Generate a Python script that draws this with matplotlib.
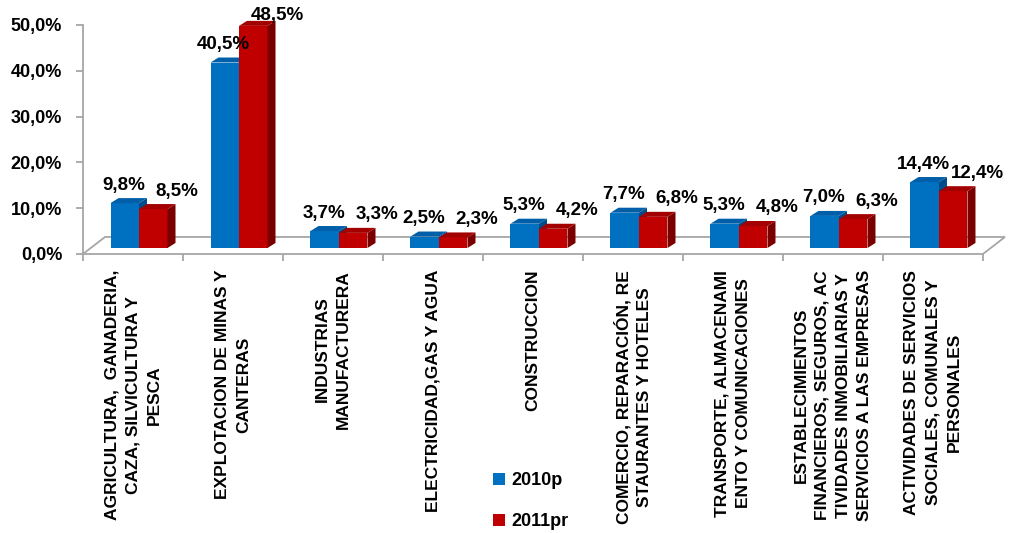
import matplotlib
matplotlib.use('Agg')
import matplotlib.pyplot as plt
from matplotlib.patches import Polygon, Patch
from matplotlib.ticker import FuncFormatter, FixedLocator

plt.rcParams['font.family'] = ['Liberation Sans', 'DejaVu Sans']

# Datos
categorias = [
    'AGRICULTURA,  GANADERIA,\nCAZA, SILVICULTURA Y\nPESCA',
    'EXPLOTACION DE MINAS Y\nCANTERAS',
    'INDUSTRIAS\nMANUFACTURERA',
    'ELECTRICIDAD,GAS Y AGUA',
    'CONSTRUCCION',
    'COMERCIO, REPARACIÓN, RE\nSTAURANTES Y HOTELES',
    'TRANSPORTE, ALMACENAMI\nENTO Y COMUNICACIONES',
    'ESTABLECIMIENTOS\nFINANCIEROS, SEGUROS, AC\nTIVIDADES INMOBILIARIAS Y\nSERVICIOS A LAS EMPRESAS',
    'ACTIVIDADES DE SERVICIOS\nSOCIALES, COMUNALES Y\nPERSONALES',
]
valores_2010 = [9.8, 40.5, 3.7, 2.5, 5.3, 7.7, 5.3, 7.0, 14.4]
valores_2011 = [8.5, 48.5, 3.3, 2.3, 4.2, 6.8, 4.8, 6.3, 12.4]
series = ['2010p', '2011pr']

# Colores (frente, techo, lado)
azul = ('#0070C0', '#005FA8', '#004C8A')
rojo = ('#C00000', '#A30000', '#7A0000')
gris = '#A6A6A6'

fig = plt.figure(figsize=(10.16, 5.33), dpi=100)
ax = fig.add_axes([0.0817, 0.5235, 0.8858, 0.4296])
n = len(categorias)
ax.set_xlim(0, n)
ax.set_ylim(0, 50)

# conversion de pixeles a unidades de datos
px_x = ax.get_position().width * fig.get_figwidth() * fig.dpi / n
px_y = ax.get_position().height * fig.get_figheight() * fig.dpi / 50.0


def dpx(x, y):
    return x / px_x, y / px_y


sx, sy = dpx(6, 6)          # desplazamiento de las barras (profundidad media)
ex, ey = dpx(8, 5)          # extrusion 3D de cada barra
fx, fy = dpx(22, 17)        # fondo del piso
ancho = 28.5 / px_x

# Piso 3D
piso = Polygon([(0, 0), (fx, fy), (n + fx, fy), (n, 0)], closed=False,
               fill=False, edgecolor=gris, lw=1.3, clip_on=False, zorder=1)
ax.add_patch(piso)


def barra(x0, h, cols):
    x1 = x0 + ancho
    y0, y1 = sy, h + sy
    frente = Polygon([(x0, y0), (x1, y0), (x1, y1), (x0, y1)], facecolor=cols[0],
                     edgecolor='none', clip_on=False, zorder=3)
    techo = Polygon([(x0, y1), (x1, y1), (x1 + ex, y1 + ey), (x0 + ex, y1 + ey)],
                    facecolor=cols[1], edgecolor='none', clip_on=False, zorder=3)
    lado = Polygon([(x1, y0), (x1 + ex, y0 + ey), (x1 + ex, y1 + ey), (x1, y1)],
                   facecolor=cols[2], edgecolor='none', clip_on=False, zorder=3)
    for p in (frente, lado, techo):
        ax.add_patch(p)


lim_label = 50 + 9 / px_y
for i in range(n):
    xc = i + 0.5 + sx
    barra(xc - ancho, valores_2010[i], azul)
    barra(xc, valores_2011[i], rojo)
    # etiquetas de valores
    yb = min(valores_2010[i] + sy + 18 / px_y, lim_label)
    yr = min(valores_2011[i] + sy + 18 / px_y, lim_label)
    ax.text(xc - ancho / 2 - 1 / px_x, yb, f'{valores_2010[i]:.1f}%'.replace('.', ','),
            ha='center', va='center', fontsize=13.5, fontweight='bold', zorder=5,
            clip_on=False)
    ax.text(xc + ancho / 2 + 24 / px_x, yr, f'{valores_2011[i]:.1f}%'.replace('.', ','),
            ha='center', va='center', fontsize=13.5, fontweight='bold', zorder=5,
            clip_on=False)

# Ejes
for s in ('top', 'right'):
    ax.spines[s].set_visible(False)
for s in ('left', 'bottom'):
    ax.spines[s].set_color(gris)
    ax.spines[s].set_linewidth(1.3)

ax.yaxis.set_major_locator(FixedLocator([0, 10, 20, 30, 40, 50]))
ax.yaxis.set_major_formatter(FuncFormatter(lambda v, p: f'{v:.1f}%'.replace('.', ',')))
ax.tick_params(axis='y', length=5, width=1.3, color=gris, labelsize=13, pad=10)
for lab in ax.get_yticklabels():
    lab.set_fontweight('bold')

ax.set_xticks(range(n + 1))
ax.set_xticklabels([])
ax.tick_params(axis='x', length=5, width=1.3, color=gris)

# Etiquetas de categorias (verticales)
for i, cat in enumerate(categorias):
    ax.text(i + 0.5, -16 / px_y, cat, rotation=90, ha='center', va='top',
            multialignment='center', fontsize=12.5, fontweight='bold',
            linespacing=1.5, clip_on=False)

# Leyenda
handles = [Patch(facecolor=azul[0], label=series[0]),
           Patch(facecolor=rojo[0], label=series[1])]
leg = fig.legend(handles=handles, loc='upper left', bbox_to_anchor=(0.478, 0.128),
                 frameon=False, handlelength=0.65, handleheight=0.65,
                 handletextpad=0.35, labelspacing=1.35, borderaxespad=0,
                 prop={'weight': 'bold', 'size': 13})

fig.savefig('out.png', dpi=100)
